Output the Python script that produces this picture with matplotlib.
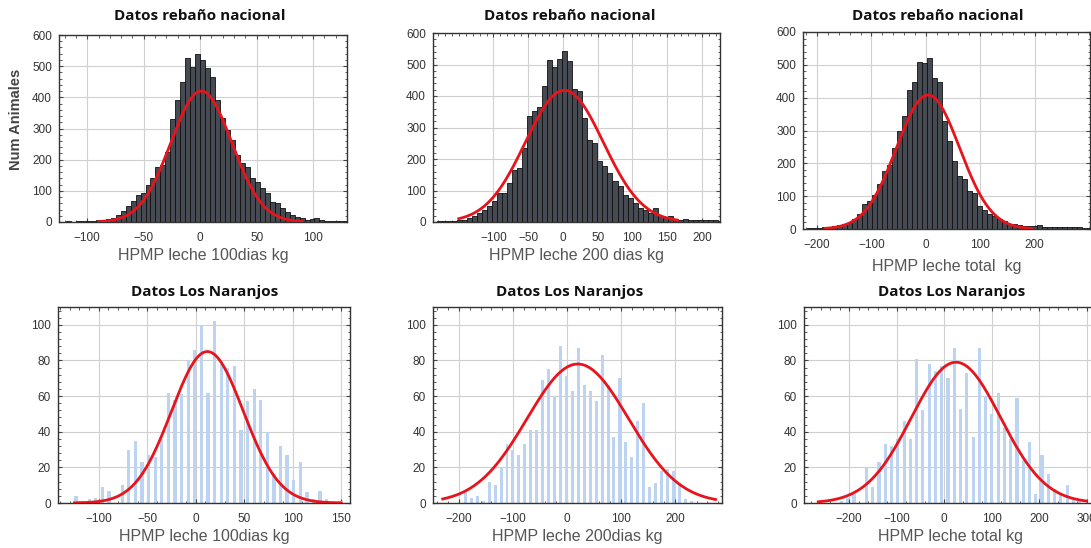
import numpy as np
import matplotlib
matplotlib.use("Agg")
from matplotlib import pyplot as plt
from matplotlib.ticker import AutoMinorLocator

plt.rcParams['font.family'] = ['Liberation Sans', 'DejaVu Sans']

### national herd (top row): bin start edge, bin width, counts
nac100_start, nac100_width = -127.6, 4.4
nac100_counts = [1, 1, 2, 1, 2, 2, 3, 4, 5, 6, 9, 13, 23, 34, 50, 66, 87, 93, 120, 141,
                 178, 184, 226, 330, 390, 450, 525, 498, 539,
                 520, 493, 466, 391, 333, 295, 263, 215, 189, 177, 141, 129, 109, 93, 65,
                 61, 45, 33, 22, 17, 12, 8, 10, 12, 6, 4, 3, 3, 4, 3]

nac200_start, nac200_width = -187.9, 7.2
nac200_counts = [1, 2, 2, 3, 4, 5, 7, 13, 18, 29, 39, 50, 66, 92, 92, 124, 165, 172, 235, 336,
                 352, 365, 431, 515, 491, 518, 542, 510, 422, 415, 330, 261, 251, 193, 177,
                 156, 129, 113, 87, 76, 60, 44, 39, 29, 44, 19, 13, 19, 10, 7, 8, 6, 6, 7,
                 5, 5, 5, 3]

nactot_start, nactot_width = -236.6, 9.2
nactot_counts = [1, 1, 2, 3, 4, 5, 7, 9, 12, 14, 19, 29, 45, 75, 85, 105, 136, 176, 196, 247,
                 298, 345, 424, 449, 510, 505, 520, 460, 449, 328, 267, 206, 161, 151, 115,
                 110, 70, 57, 45, 39, 29, 24, 16, 14, 12, 9, 9, 8, 12, 7, 6, 6, 5, 6, 5, 6,
                 5, 4, 4]

### Los Naranjos (bottom row)
nar100_start, nar100_width = -126.8, 6.8
nar100_counts = [4, 1, 2, 3, 9, 7, 0, 10, 30, 35, 23, 27, 26, 36, 62, 58, 61, 80, 86, 100,
                 62, 102, 78, 76, 77, 41, 57, 64, 58, 40, 16, 32, 27, 13, 23, 6, 2, 7, 2, 1, 1]

nar200_start, nar200_width = -193.5, 11.0
nar200_counts = [7, 3, 4, 1, 12, 10, 20, 33, 30, 27, 33, 41, 41, 69, 75, 60, 88, 71, 63, 87,
                 66, 63, 57, 83, 66, 37, 70, 34, 26, 46, 56, 9, 11, 18, 19, 18, 11, 2, 1]

nartot_start, nartot_width = -222.8, 13.2
nartot_counts = [1, 3, 5, 0, 20, 9, 23, 33, 32, 36, 46, 36, 81, 52, 78, 74, 77, 70, 87, 53,
                 73, 37, 87, 60, 50, 62, 42, 36, 59, 24, 34, 5, 27, 16, 8, 5, 10, 3, 1]

### fitted normal curves: (peak height, mean, sd, x from, x to)
fit_nac100 = (420, 1, 27, -90, 90)
fit_nac200 = (418, 2, 56, -150, 165)
fit_nactot = (408, 4, 58, -185, 195)
fit_nar100 = (85, 12, 37, -125, 150)
fit_nar200 = (78, 20, 94, -230, 275)
fit_nartot = (79, 25, 94, -265, 300)

W, H = 1091, 548
fig = plt.figure(figsize=(W/100, H/100), dpi=100)

def px_axes(left, top, right, bottom):
    return fig.add_axes([left/W, 1-bottom/H, (right-left)/W, (bottom-top)/H])

def draw_panel(ax, start, width, counts, fit, xlim, xticks, ylim, yticks, top_row, xlabel, lpad=3):
    centers = start + width/2 + width*np.arange(len(counts))
    if top_row:
        ax.bar(centers, counts, width=width, color='#454a53', edgecolor='#101010',
               linewidth=0.6, zorder=2)
    else:
        ax.bar(centers, counts, width=width*0.5, color='#bcd4f2', linewidth=0, zorder=2)
    peak, mu, sd, x0, x1 = fit
    xs = np.linspace(x0, x1, 300)
    ax.plot(xs, peak*np.exp(-(xs-mu)**2/(2*sd**2)), color='#e8131b', lw=2.0, zorder=3)
    ax.set_xlim(*xlim)
    ax.set_ylim(*ylim)
    ax.set_xticks(xticks)
    ax.set_yticks(yticks)
    ax.xaxis.set_minor_locator(AutoMinorLocator(5))
    ax.yaxis.set_minor_locator(AutoMinorLocator(5))
    ax.grid(True, which='major', color='#d0d0d0', lw=0.8, zorder=0)
    ax.set_axisbelow(True)
    ax.tick_params(which='both', direction='in', top=True, right=True, colors='#444444',
                   labelcolor='#333333', labelsize=8.5)
    ax.tick_params(which='major', length=3)
    ax.tick_params(which='minor', length=1.8)
    ax.tick_params(axis='x', which='major', pad=7)
    ax.tick_params(axis='y', which='major', pad=5)
    for s in ax.spines.values():
        s.set_color('#333333')
        s.set_linewidth(1.0)
    ax.set_xlabel(xlabel, fontsize=11.5, color='#555555', labelpad=lpad)

top_yt = [0, 100, 200, 300, 400, 500, 600]
bot_yt = [0, 20, 40, 60, 80, 100]

ax1 = px_axes(59, 35, 347, 222)
draw_panel(ax1, nac100_start, nac100_width, nac100_counts, fit_nac100, (-125, 130),
           [-100, -50, 0, 50, 100], (0, 600), top_yt, True, 'HPMP leche 100dias kg')
ax1.set_ylabel('Num Animales', fontsize=10.5, fontweight='bold', color='#444444')
ax1.yaxis.set_label_coords(-0.125, 0.55)

ax2 = px_axes(433, 33, 720, 222)
draw_panel(ax2, nac200_start, nac200_width, nac200_counts, fit_nac200, (-187, 226),
           [-100, -50, 0, 50, 100, 150, 200], (0, 600), top_yt, True, 'HPMP leche 200 dias kg')

ax3 = px_axes(803, 32, 1090, 229)
draw_panel(ax3, nactot_start, nactot_width, nactot_counts, fit_nactot, (-226, 302),
           [-200, -100, 0, 100, 200], (0, 600), top_yt, True, 'HPMP leche total  kg', lpad=6)

ax4 = px_axes(58, 307, 350, 503)
draw_panel(ax4, nar100_start, nar100_width, nar100_counts, fit_nar100, (-142, 159),
           [-100, -50, 0, 50, 100, 150], (0, 110), bot_yt, False, 'HPMP leche 100dias kg')

ax5 = px_axes(433, 307, 722, 503)
draw_panel(ax5, nar200_start, nar200_width, nar200_counts, fit_nar200, (-248, 287),
           [-200, -100, 0, 100, 200], (0, 110), bot_yt, False, 'HPMP leche 200dias kg')

ax6 = px_axes(804, 307, 1098, 503)
draw_panel(ax6, nartot_start, nartot_width, nartot_counts, fit_nartot, (-295, 324),
           [-200, -100, 0, 100, 200, 300], (0, 110), bot_yt, False, 'HPMP leche total kg')

titles = [('Datos rebaño nacional', 200, 16), ('Datos rebaño nacional', 570, 16),
          ('Datos rebaño nacional', 938, 16), ('Datos Los Naranjos', 205, 292),
          ('Datos Los Naranjos', 570, 292), ('Datos Los Naranjos', 952, 292)]
for txt, x, y in titles:
    fig.text(x/W, 1-y/H, txt, ha='center', va='center', fontsize=11, fontweight='bold',
             family=['Open Sans', 'DejaVu Sans'], color='#111111')

fig.savefig('out.png', dpi=100)
